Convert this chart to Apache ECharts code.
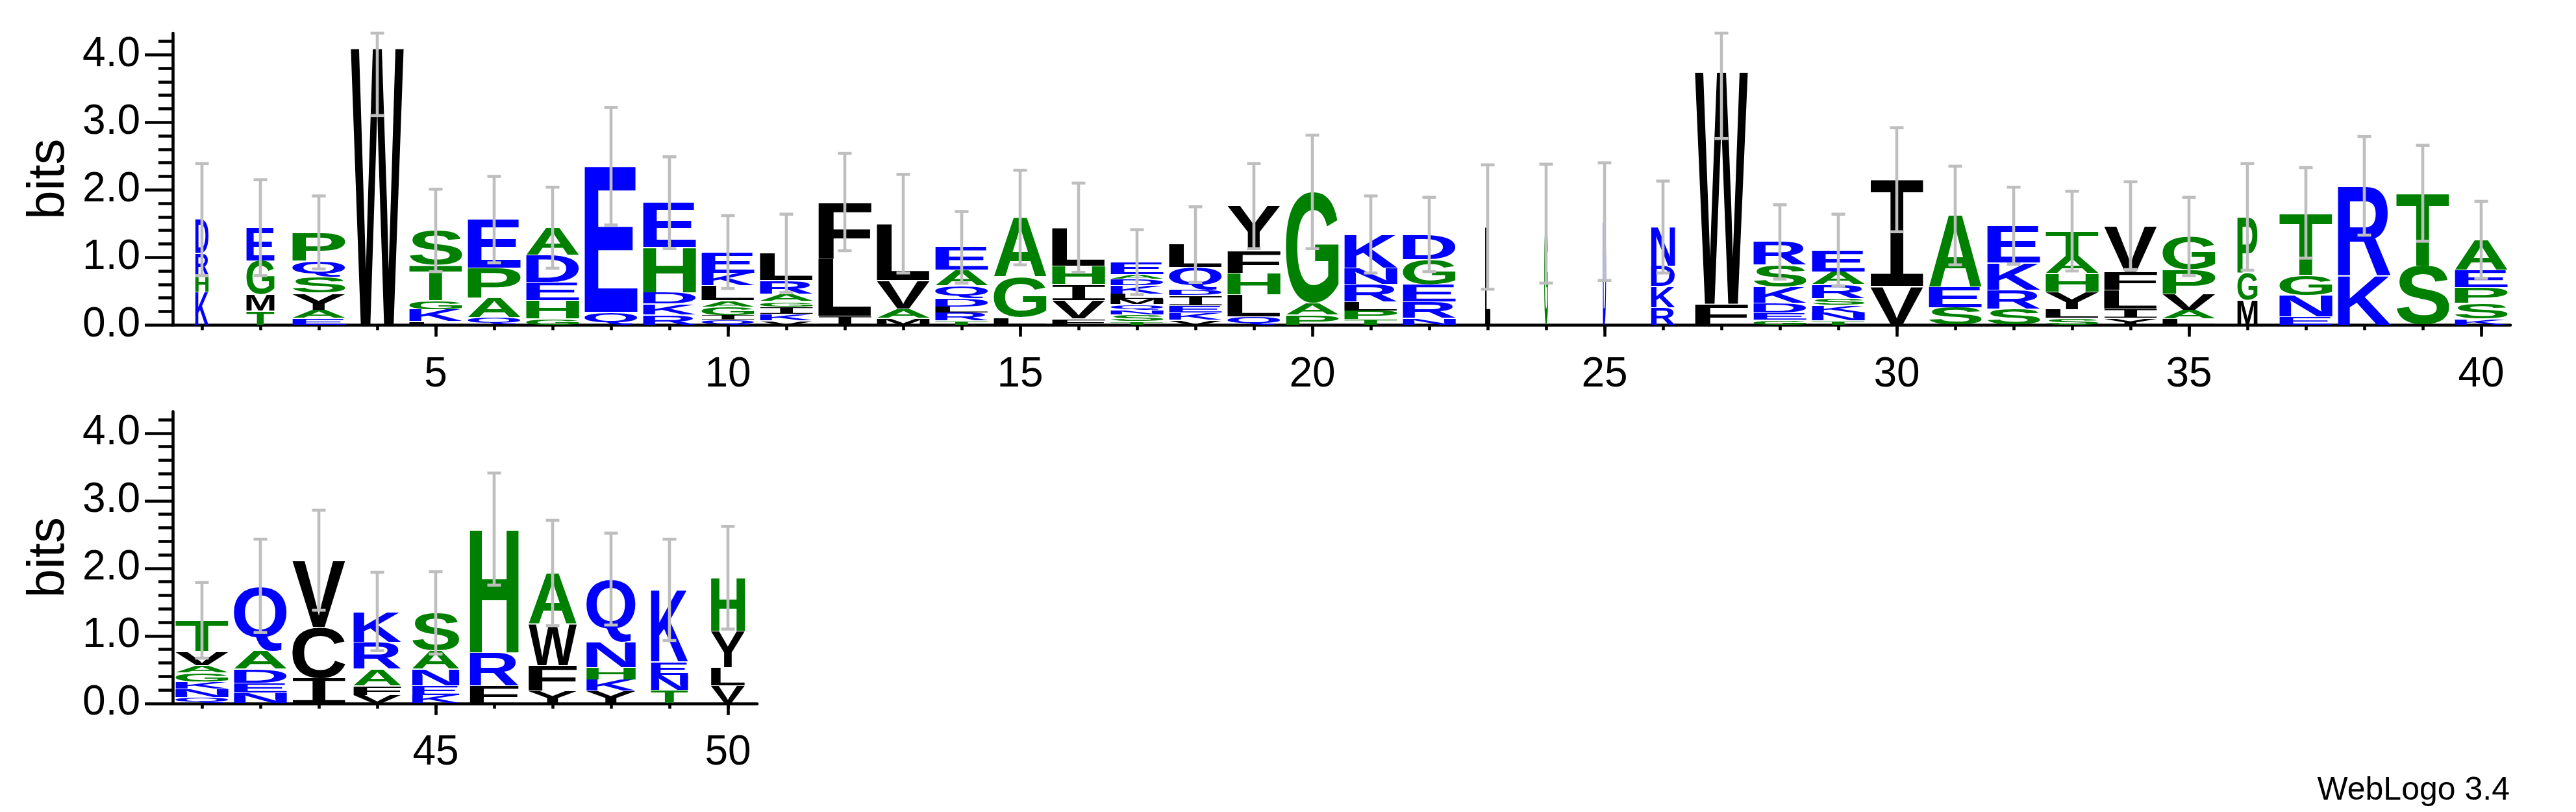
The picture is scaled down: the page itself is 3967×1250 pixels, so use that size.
<!DOCTYPE html>
<html>
<head>
<meta charset="utf-8">
<script src="https://cdn.jsdelivr.net/npm/echarts@6/dist/echarts.min.js"></script>
<style>
html,body{margin:0;padding:0;background:#fff;}
#chart{width:3967px;height:1250px;}
</style>
</head>
<body>
<div id="chart"></div>
<script>
// ---------------- DATA ----------------
const positions = [1,2,3,4,5,6,7,8,9,10,11,12,13,14,15,16,17,18,19,20,
                   21,22,23,24,25,26,27,28,29,30,31,32,33,34,35,36,37,38,39,40,
                   41,42,43,44,45,46,47,48,49,50];
// letters of each stack, bottom -> top
const stackLetters = [
  "KHRD","TMGE","EAYSQP","W","LKGTS","QAPE","GHEDA","QE","RKDHE","QIGALKE",
  "VKIGARL","ILF","MAVL","TRLDQAE","LGA","FVIHL","TSNQMLKDAE","VKEIDQL","QLHFY","PAG",
  "TPLRNK","NREGD","L","G","D","RKDN","FW","GEDKSR","TNKSRAE","VI",
  "SEA","SRKE","SLYHAT","YILFV","LAVPG","MGP","ENGT","KR","ST","KSPEA",
  "QNKGAVT","NEDAQ","ICV","VFARK","KENAS","FRH","YFWA","YKHNQ","TNEK","VLYH"
];
// letter heights (bits), bottom -> top
const stackHeights = [
  [0.49,0.25,0.32,0.50],
  [0.21,0.24,0.50,0.49],
  [0.10,0.12,0.25,0.24,0.24,0.42],
  [4.10],
  [0.05,0.18,0.13,0.52,0.52],
  [0.11,0.29,0.44,0.72],
  [0.09,0.27,0.27,0.40,0.41],
  [0.19,2.16],
  [0.15,0.16,0.17,0.67,0.66],
  [0.07,0.07,0.13,0.09,0.22,0.19,0.31],
  [0.06,0.10,0.11,0.08,0.11,0.20,0.40],
  [0.13,0.85,0.84],
  [0.10,0.14,0.42,0.84],
  [0.06,0.12,0.09,0.12,0.19,0.23,0.34],
  [0.11,0.60,0.88],
  [0.09,0.27,0.24,0.27,0.57],
  [0.05,0.10,0.07,0.08,0.08,0.08,0.12,0.10,0.07,0.18],
  [0.07,0.11,0.11,0.15,0.08,0.33,0.34],
  [0.12,0.33,0.32,0.33,0.66],
  [0.15,0.17,1.65],
  [0.08,0.13,0.13,0.26,0.24,0.50],
  [0.10,0.24,0.26,0.37,0.37],
  [1.45],
  [1.50],
  [1.53],
  [0.26,0.31,0.30,0.58],
  [0.31,3.44],
  [0.07,0.11,0.14,0.24,0.33,0.34],
  [0.06,0.12,0.11,0.10,0.21,0.19,0.32],
  [0.57,1.58],
  [0.26,0.30,1.06],
  [0.24,0.28,0.40,0.55],
  [0.10,0.13,0.26,0.27,0.26,0.37],
  [0.10,0.14,0.28,0.27,0.68],
  [0.09,0.13,0.24,0.36,0.49],
  [0.37,0.40,0.83],
  [0.12,0.32,0.30,0.92],
  [0.73,1.33],
  [0.87,1.08],
  [0.09,0.23,0.23,0.26,0.45],
  [0.09,0.12,0.11,0.13,0.11,0.21,0.46],
  [0.16,0.14,0.21,0.27,0.96],
  [0.37,0.76,0.99],
  [0.12,0.14,0.25,0.40,0.45],
  [0.12,0.14,0.25,0.27,0.56],
  [0.26,0.49,1.83],
  [0.18,0.38,0.61,0.76],
  [0.18,0.17,0.18,0.38,0.93],
  [0.19,0.23,0.20,1.06],
  [0.26,0.27,0.54,0.79]
];
// error bar half-length (bits) for each stack
const errorBars = [
  0.83,0.71,0.54,1.00,0.61,0.64,0.60,0.87,0.68,0.54,
  0.58,0.72,0.73,0.53,0.70,0.66,0.48,0.56,0.63,0.84,
  0.57,0.55,0.92,0.88,0.87,0.68,0.99,0.55,0.53,0.77,
  0.73,0.57,0.59,0.65,0.58,0.79,0.67,0.73,0.71,0.57,
  0.56,0.69,0.74,0.58,0.61,0.83,0.78,0.68,0.75,0.76
];
// relative stack widths (occupancy)
const stackWidths = [
  0.25,0.53,1,1,1,1,1,1,1,1,
  1,1,1,1,1,1,1,1,1,1,
  1,1,0.10,0.07,0.06,0.45,1,1,1,1,
  1,1,1,1,1,0.38,1,1,1,1,
  1,1,1,0.90,0.89,0.92,0.91,0.93,0.70,0.64
];
const row1Positions = positions.slice(0, 40);
const row2Positions = positions.slice(40);
const xTickLabels1 = [5,10,15,20,25,30,35,40];
const xTickLabels2 = [45,50];
const yTickLabels = [0,1,2,3,4];
const yMinorTicks = [0.2,0.4,0.6,0.8,1.2,1.4,1.6,1.8,2.2,2.4,2.6,2.8,3.2,3.4,3.6,3.8,4.2];
const maxBits = 4.32;
const footerText = "WebLogo 3.4";

// ---------------- STYLE HELPERS ----------------
const FAMILY = '"Liberation Sans", Arial, sans-serif';
const SERIF_I_FAMILY = '"DejaVu Sans Mono", "Liberation Mono", monospace';
const LETTER_SIZE = 200;
const BLUE = '#0000ff', GREEN = '#008000', BLACK = '#000000';
function letterColor(ch) {
  if ('RKDENQ'.indexOf(ch) >= 0) return BLUE;
  if ('SGHTAP'.indexOf(ch) >= 0) return GREEN;
  return BLACK;
}
function letterFamily(ch) { return ch === 'I' ? SERIF_I_FAMILY : FAMILY; }
function letterWeight(ch) { return ch === 'I' ? 'normal' : 'bold'; }
const metricCache = {};
const mctx = document.createElement('canvas').getContext('2d');
function glyphMetrics(ch) {
  if (metricCache[ch]) return metricCache[ch];
  mctx.font = letterWeight(ch) + ' ' + LETTER_SIZE + 'px ' + letterFamily(ch);
  mctx.textAlign = 'left';
  mctx.textBaseline = 'middle';
  const m = mctx.measureText(ch);
  const r = {
    left: m.actualBoundingBoxLeft, right: m.actualBoundingBoxRight,
    ascent: m.actualBoundingBoxAscent, descent: m.actualBoundingBoxDescent
  };
  metricCache[ch] = r;
  return r;
}

// ---------------- BUILD SERIES DATA ----------------
function buildLetters(posList) {
  const out = [];
  posList.forEach(function (p) {
    const si = p - 1;
    let cum = 0;
    stackHeights[si].forEach(function (h, li) {
      out.push([p, cum, cum + h, si, li]);
      cum += h;
    });
  });
  return out;
}
function buildErrors(posList) {
  return posList.map(function (p) {
    const si = p - 1;
    const top = stackHeights[si].reduce(function (a, b) { return a + b; }, 0);
    return [p, top, errorBars[si], si];
  });
}

function renderLetter(params, api) {
  const p = api.value(0), y0 = api.value(1), y1 = api.value(2);
  const si = api.value(3), li = api.value(4);
  const ch = stackLetters[si].charAt(li);
  const bottom = api.coord([p, y0]);
  const top = api.coord([p, y1]);
  const unit = api.size([1, 0])[0];
  const boxW = unit * 0.905 * stackWidths[si];
  const L = bottom[0] - boxW / 2;
  const T = top[1] + 0.6, B = bottom[1] - 0.6;
  if (B - T < 0.3) return null;
  const m = glyphMetrics(ch);
  const sx = boxW / (m.left + m.right);
  const sy = (B - T) / (m.ascent + m.descent);
  return {
    type: 'text',
    x: L + m.left * sx,
    y: T + m.ascent * sy,
    scaleX: sx,
    scaleY: sy,
    style: {
      text: ch,
      fontFamily: letterFamily(ch),
      fontWeight: letterWeight(ch),
      fontSize: LETTER_SIZE,
      fill: letterColor(ch),
      align: 'left',
      verticalAlign: 'middle'
    }
  };
}

function renderError(params, api) {
  const p = api.value(0), top = api.value(1), err = api.value(2);
  const lo = top - err;
  const hi = Math.min(top + err, maxBits);
  const a = api.coord([p, lo]);
  const b = api.coord([p, hi]);
  const cap = 10.5;
  const st = { stroke: '#bebebe', lineWidth: 4.6 };
  return {
    type: 'group',
    children: [
      { type: 'line', shape: { x1: a[0], y1: a[1], x2: b[0], y2: b[1] }, style: st },
      { type: 'line', shape: { x1: a[0] - cap, y1: a[1], x2: a[0] + cap, y2: a[1] }, style: st },
      { type: 'line', shape: { x1: b[0] - cap, y1: b[1], x2: b[0] + cap, y2: b[1] }, style: st }
    ]
  };
}

// ---------------- AXES ----------------
const AXIS_W = 4.6;
const LABEL_SIZE = 64;
function mainX(grid, min, max, labels) {
  return {
    type: 'value', gridIndex: grid, position: 'bottom', min: min, max: max,
    axisLine: { show: true, onZero: false, lineStyle: { color: '#000', width: AXIS_W } },
    axisTick: { show: true, customValues: labels, length: 18, lineStyle: { color: '#000', width: AXIS_W } },
    axisLabel: { show: true, customValues: labels, margin: 45, fontSize: LABEL_SIZE, fontFamily: FAMILY, color: '#000' },
    splitLine: { show: false }
  };
}
function minorX(grid, min, max, ticks) {
  return {
    type: 'value', gridIndex: grid, position: 'bottom', min: min, max: max,
    axisLine: { show: false, onZero: false },
    axisTick: { show: true, customValues: ticks, length: 8, lineStyle: { color: '#000', width: AXIS_W } },
    axisLabel: { show: false },
    splitLine: { show: false }
  };
}
function mainY(grid) {
  return {
    type: 'value', gridIndex: grid, position: 'left', min: 0, max: maxBits,
    name: 'bits', nameLocation: 'middle', nameGap: 150,
    nameTextStyle: { fontSize: 80, fontFamily: FAMILY, color: '#000' },
    axisLine: { show: true, onZero: false, lineStyle: { color: '#000', width: AXIS_W } },
    axisTick: { show: true, customValues: yTickLabels, length: 43, lineStyle: { color: '#000', width: AXIS_W } },
    axisLabel: { show: true, customValues: yTickLabels, margin: 50, fontSize: LABEL_SIZE, fontFamily: FAMILY, color: '#000',
      formatter: function (v) { return Number(v).toFixed(1); } },
    splitLine: { show: false }
  };
}
function minorY(grid) {
  return {
    type: 'value', gridIndex: grid, position: 'left', min: 0, max: maxBits,
    axisLine: { show: false, onZero: false },
    axisTick: { show: true, customValues: yMinorTicks, length: 22, lineStyle: { color: '#000', width: AXIS_W } },
    axisLabel: { show: false },
    splitLine: { show: false }
  };
}

const chart = echarts.init(document.getElementById('chart'), null, { renderer: 'canvas' });
chart.setOption({
  animation: false,
  backgroundColor: '#ffffff',
  title: {
    text: footerText, right: 102, bottom: 8, padding: 0,
    textStyle: { fontSize: 50, fontWeight: 'normal', fontFamily: FAMILY, color: '#000' }
  },
  grid: [
    { left: 266, top: 51, width: 3600, height: 449.3 },
    { left: 266, top: 633.5, width: 900, height: 449.3 }
  ],
  xAxis: [
    mainX(0, 0.5, 40.5, xTickLabels1),
    minorX(0, 0.5, 40.5, row1Positions),
    mainX(1, 40.5, 50.5, xTickLabels2),
    minorX(1, 40.5, 50.5, row2Positions)
  ],
  yAxis: [mainY(0), minorY(0), mainY(1), minorY(1)],
  series: [
    { type: 'custom', name: 'letters1', xAxisIndex: 0, yAxisIndex: 0, clip: false, z: 2,
      renderItem: renderLetter, data: buildLetters(row1Positions) },
    { type: 'custom', name: 'errors1', xAxisIndex: 0, yAxisIndex: 0, clip: false, z: 3,
      renderItem: renderError, data: buildErrors(row1Positions) },
    { type: 'custom', name: 'letters2', xAxisIndex: 2, yAxisIndex: 2, clip: false, z: 2,
      renderItem: renderLetter, data: buildLetters(row2Positions) },
    { type: 'custom', name: 'errors2', xAxisIndex: 2, yAxisIndex: 2, clip: false, z: 3,
      renderItem: renderError, data: buildErrors(row2Positions) }
  ]
});
</script>
</body>
</html>
